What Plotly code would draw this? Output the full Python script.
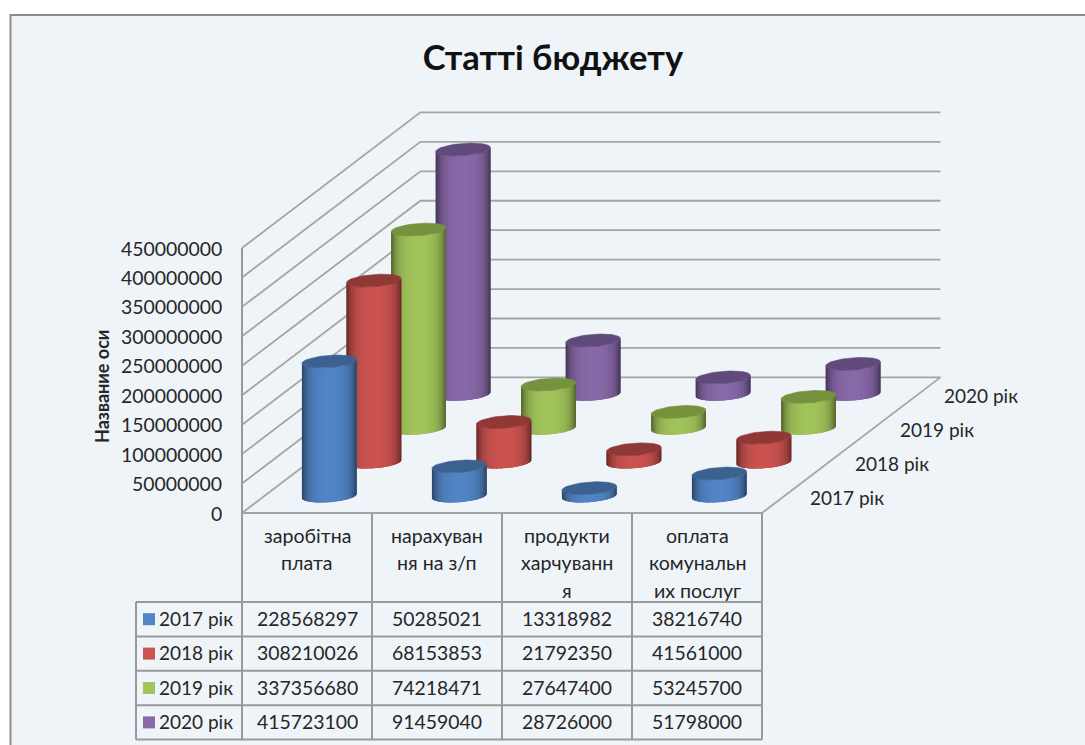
import math
import plotly.graph_objects as go

categories = ["заробітна<br>плата", "нарахуван<br>ня на з/п", "продукти<br>харчуванн<br>я", "оплата<br>комунальн<br>их послуг"]
series_names = ["2017 рік", "2018 рік", "2019 рік", "2020 рік"]
values_2017 = [228568297, 50285021, 13318982, 38216740]
values_2018 = [308210026, 68153853, 21792350, 41561000]
values_2019 = [337356680, 74218471, 27647400, 53245700]
values_2020 = [415723100, 91459040, 28726000, 51798000]
axis_ticks = [0, 50000000, 100000000, 150000000, 200000000, 250000000, 300000000, 350000000, 400000000, 450000000]
all_values = [values_2017, values_2018, values_2019, values_2020]

FONT = "Lato, Carlito, 'Open Sans', sans-serif"
TXT = "#262626"
GRID = "#a4a4a4"
TABLE = "#999999"
BG = "#eff4f9"
SIDE = ["#5285c6", "#cb5350", "#a3c45b", "#8869a9"]
TOP = ["#3a6190", "#8f3835", "#76923c", "#604a7b"]

X0, Y0 = 242.0, 513.0          # front-left floor corner
CAT_W = 130.0
DX, DY = 44.6, -33.9           # one series step in depth
PX_PER_UNIT = 265.0 / 450000000
N_CAT, N_SER = len(categories), len(series_names)


def project(cat, depth, value=0.0):
    return X0 + cat * CAT_W + depth * DX, Y0 + depth * DY - value * PX_PER_UNIT


def shade(hex_col, f):
    r, g, b = int(hex_col[1:3], 16), int(hex_col[3:5], 16), int(hex_col[5:7], 16)
    return f"rgb({int(r*f)},{int(g*f)},{int(b*f)})"


fig = go.Figure()


def line(xs, ys, color=GRID, width=1.8):
    fig.add_trace(go.Scatter(x=xs, y=ys, mode="lines", line=dict(color=color, width=width),
                             hoverinfo="skip", showlegend=False))


# walls
gx, gy = [], []
for t in axis_ticks:
    a = project(0, 0, t)
    b = project(0, N_SER, t)
    c = project(N_CAT, N_SER, t)
    gx += [a[0], b[0], c[0], None]
    gy += [a[1], b[1], c[1], None]
line(gx, gy)
# floor and vertical edges
f1, f2, f3 = project(0, 0), project(N_CAT, 0), project(N_CAT, N_SER)
line([f1[0], f2[0], f3[0]], [f1[1], f2[1], f3[1]])
top = project(0, 0, axis_ticks[-1])

# cylinders, back to front
A, ED = 26.0, 0.19
STRIPS = 22
edx, edy = DX * ED, DY * ED
W = math.hypot(A, edx)
phi = math.atan2(edx, A)


def ell(cx, cy, t):
    return cx + A * math.cos(t) + edx * math.sin(t), cy + edy * math.sin(t)


for s in range(N_SER - 1, -1, -1):
    for c in range(N_CAT):
        v = all_values[s][c]
        bx, by = project(c + 0.5, s + 0.5)
        tx, ty = project(c + 0.5, s + 0.5, v)
        low = [phi + math.pi + math.pi * k / 40 for k in range(41)]
        sil = [ell(bx, by, t) for t in low] + [ell(tx, ty, t) for t in reversed(low)]
        sil.append(sil[0])
        fig.add_trace(go.Scatter(x=[p[0] for p in sil], y=[p[1] for p in sil], mode="lines", fill="toself",
                                 fillcolor=shade(SIDE[s], 0.85), line=dict(width=0), hoverinfo="skip",
                                 showlegend=False))
        for i in range(STRIPS):
            t0 = phi + math.pi + math.pi * i / STRIPS
            # each strip reaches over its neighbour so no seam shows
            t1 = phi + math.pi + math.pi * min(i + 1.6, STRIPS) / STRIPS
            tm = phi + math.pi + math.pi * (i + 0.5) / STRIPS
            p0, p1 = ell(bx, by, t0), ell(bx, by, t1)
            p2, p3 = ell(tx, ty, t1), ell(tx, ty, t0)
            q = (ell(bx, by, tm)[0] - bx) / W
            f = 1 - 0.2 * q * q - 0.32 * abs(q) ** 6
            col = shade(SIDE[s], f)
            fig.add_trace(go.Scatter(
                x=[p0[0], p1[0], p2[0], p3[0], p0[0]], y=[p0[1], p1[1], p2[1], p3[1], p0[1]],
                mode="lines", fill="toself", fillcolor=col, line=dict(width=0),
                hoverinfo="skip", showlegend=False))
        ts = [2 * math.pi * k / 60 for k in range(61)]
        pts = [ell(tx, ty, t) for t in ts]
        fig.add_trace(go.Scatter(x=[p[0] for p in pts], y=[p[1] for p in pts], mode="lines", fill="toself",
                                 fillcolor=TOP[s], line=dict(color=TOP[s], width=0.6),
                                 name=series_names[s], hoverinfo="skip", showlegend=False))

# data table
col_x = [X0 + i * CAT_W for i in range(N_CAT + 1)]
LEG_X = 136.0
HEAD_B = 602.0
ROW_H = 34.4
for x in col_x:
    line([x, x], [Y0, HEAD_B + N_SER * ROW_H] if x != col_x[0] else [top[1], HEAD_B + N_SER * ROW_H], TABLE, 2)
line([LEG_X, LEG_X], [HEAD_B, HEAD_B + N_SER * ROW_H], TABLE, 2)
for r in range(N_SER + 1):
    line([LEG_X, col_x[-1]], [HEAD_B + r * ROW_H] * 2, TABLE, 2)

ann = []


def label(x, y, text, anchor="center", size=19.4, bold=False, angle=0):
    ann.append(dict(x=x, y=y, xref="x", yref="y", text=f"<b>{text}</b>" if bold else text, showarrow=False,
                    xanchor=anchor, yanchor="middle", textangle=angle,
                    font=dict(family=FONT, size=size, color=TXT)))


for t in axis_ticks:
    label(223.5, project(0, 0, t)[1], str(t), "right")
label(102, 387, "Название оси", bold=True, size=18, angle=-90)
for c, name in enumerate(categories):
    for k, part in enumerate(name.split("<br>")):
        label(col_x[c] + CAT_W / 2, 535 + k * 27.5, part, size=19.6)
for s, name in enumerate(series_names):
    p = project(N_CAT, s + 0.5)
    label(p[0] + 24, p[1] + 1, name, "left", size=19)
    yc = HEAD_B + (s + 0.5) * ROW_H
    fig.add_trace(go.Scatter(x=[149], y=[yc], mode="markers",
                             marker=dict(symbol="square", size=12, color=SIDE[s]),
                             name=name, hoverinfo="skip", showlegend=False))
    label(157, yc - 1, name, "left", size=19)
    for c in range(N_CAT):
        label(col_x[c] + CAT_W / 2, yc - 1, str(all_values[s][c]))

frame = dict(type="rect", xref="x", yref="y", x0=10.5, y0=15, x1=1100, y1=760,
             fillcolor=BG, line=dict(color="#8c8c8c", width=2), layer="below")

fig.update_layout(
    width=1085, height=745, margin=dict(l=0, r=0, t=0, b=0),
    paper_bgcolor="white", plot_bgcolor="white", showlegend=False,
    title=dict(text="<b>Статті бюджету</b>", x=553 / 1085, y=1 - 58 / 745, xanchor="center", yanchor="middle",
               font=dict(family=FONT, size=34.5, color="#111111")),
    xaxis=dict(range=[0, 1085], visible=False, fixedrange=True),
    yaxis=dict(range=[745, 0], visible=False, fixedrange=True),
    shapes=[frame], annotations=ann,
)
fig.write_html("out.html", post_script="document.body.style.margin='0';", config={"displayModeBar": False})
